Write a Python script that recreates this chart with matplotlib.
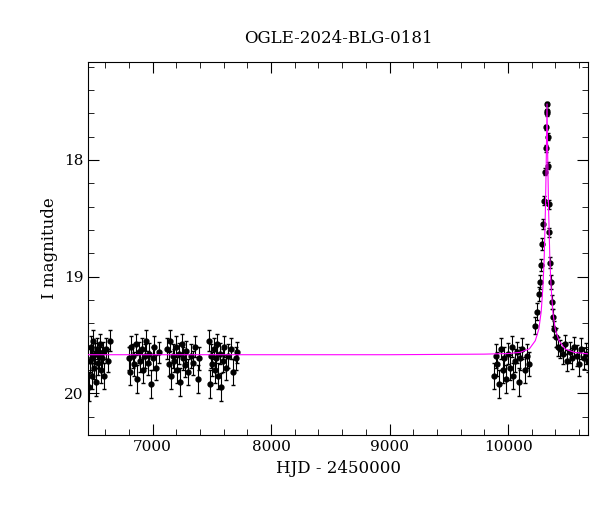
import matplotlib
matplotlib.use("Agg")
import matplotlib.pyplot as plt

title = "OGLE-2024-BLG-0181"
xlabel = "HJD - 2450000"
ylabel = "I magnitude"

hjd = [6462,6470,6478,6485,6492,6500,6508,6515,6522,6530,6538,6545,6552,6560,6570,6580,6592,6605,6620,6640,
       6800,6810,6820,6832,6845,6858,6870,6882,6895,6908,6920,6932,6945,6958,6970,6985,7000,7015,7030,7050,
       7125,7135,7145,7158,7170,7182,7195,7208,7220,7232,7245,7258,7270,7285,7300,7320,7340,7360,7380,7395,
       7475,7485,7495,7505,7515,7525,7535,7545,7555,7565,7575,7590,7605,7620,7640,7660,7680,7700,7715,
       9880,9895,9910,9925,9940,9955,9970,9985,10000,10015,10030,10045,10060,10075,10090,10105,10120,10140,10160,10180,
       10230,10245,10260,10270,10280,10290,10298,10305,10312,10318,10322,10326,10329,10332,10336,10340,10345,10350,10356,10362,
       10370,10380,10392,10405,10420,10440,10460,10480,10500,10520,10540,10560,10580,10600,10620,10640,10660,10672]
mag = [19.95,19.72,19.60,19.85,19.70,19.55,19.78,19.66,19.90,19.62,19.74,19.68,19.58,19.80,19.70,19.65,19.85,19.62,19.72,19.55,
       19.70,19.82,19.60,19.68,19.75,19.58,19.88,19.65,19.72,19.62,19.80,19.68,19.55,19.74,19.66,19.92,19.70,19.60,19.78,19.65,
       19.62,19.75,19.55,19.85,19.68,19.72,19.60,19.80,19.66,19.90,19.58,19.70,19.76,19.64,19.82,19.68,19.74,19.60,19.88,19.70,
       19.55,19.92,19.68,19.75,19.62,19.80,19.70,19.58,19.85,19.66,19.95,19.72,19.60,19.78,19.68,19.62,19.82,19.70,19.65,
       19.85,19.68,19.75,19.92,19.62,19.80,19.70,19.88,19.66,19.78,19.60,19.85,19.72,19.65,19.90,19.70,19.62,19.80,19.68,19.75,
       19.42,19.30,19.15,19.05,18.90,18.72,18.55,18.35,18.10,17.90,17.72,17.58,17.52,17.60,17.80,18.05,18.38,18.62,18.88,19.05,
       19.22,19.35,19.45,19.52,19.60,19.62,19.66,19.58,19.72,19.65,19.70,19.60,19.68,19.75,19.62,19.70,19.66,19.72]
err = [0.12,0.10,0.09,0.11,0.10,0.09,0.10,0.09,0.12,0.09,0.10,0.10,0.09,0.11,0.10,0.09,0.11,0.09,0.10,0.09,
       0.10,0.11,0.09,0.10,0.10,0.09,0.12,0.09,0.10,0.09,0.11,0.10,0.09,0.10,0.09,0.12,0.10,0.09,0.11,0.09,
       0.09,0.10,0.09,0.11,0.10,0.10,0.09,0.11,0.09,0.12,0.09,0.10,0.10,0.09,0.11,0.10,0.10,0.09,0.12,0.10,
       0.09,0.12,0.10,0.10,0.09,0.11,0.10,0.09,0.11,0.09,0.12,0.10,0.09,0.11,0.10,0.09,0.11,0.10,0.09,
       0.11,0.10,0.10,0.12,0.09,0.11,0.10,0.12,0.09,0.11,0.09,0.11,0.10,0.09,0.12,0.10,0.09,0.11,0.10,0.10,
       0.07,0.07,0.06,0.06,0.05,0.05,0.04,0.04,0.03,0.03,0.02,0.02,0.02,0.02,0.03,0.03,0.04,0.04,0.05,0.06,
       0.06,0.07,0.07,0.08,0.08,0.08,0.09,0.08,0.09,0.09,0.09,0.08,0.09,0.10,0.09,0.09,0.09,0.10]

model_t = [6400,8000,9000,9800,10000,10100,10180,10230,10260,10280,10295,10305,10315,10322,10329,10336,10343,10353,10363,10378,10398,10430,10480,10560,10700]
model_m = [19.67,19.67,19.67,19.665,19.66,19.65,19.62,19.55,19.45,19.30,19.08,18.85,18.45,18.05,17.52,18.05,18.45,18.85,19.08,19.30,19.45,19.55,19.62,19.65,19.665]

plt.rcParams["font.family"] = "DejaVu Serif"
fig, ax = plt.subplots(figsize=(6.0, 5.12), dpi=100)
fig.subplots_adjust(left=0.147, right=0.98, top=0.879, bottom=0.15)
ax.plot(model_t, model_m, color="magenta", lw=0.8, zorder=3)
ax.errorbar(hjd, mag, yerr=err, fmt="o", color="black", ms=3.5, elinewidth=0.8, capsize=1.5, zorder=2)
ax.set_xlim(6456, 10675)
ax.set_ylim(20.36, 17.16)
ax.set_xticks([7000, 8000, 9000, 10000])
ax.set_yticks([18, 19, 20])
ax.minorticks_on()
ax.tick_params(which="both", direction="in", top=True, right=True, labelsize=11)
ax.tick_params(which="major", length=8)
ax.tick_params(which="minor", length=4)
ax.set_title(title, fontsize=12, pad=14)
ax.set_xlabel(xlabel, fontsize=12)
ax.set_ylabel(ylabel, fontsize=12)
fig.savefig("out.png")
